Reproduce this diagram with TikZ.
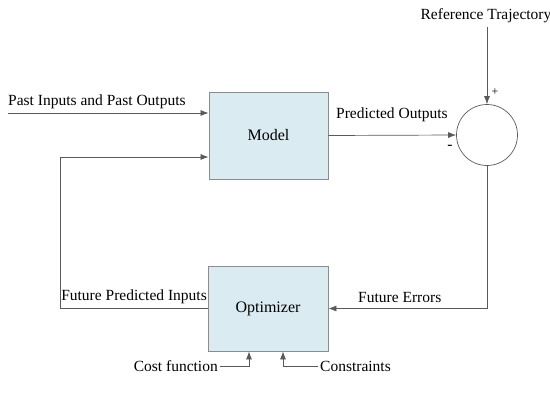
\documentclass[tikz,border=0pt]{standalone}
\usepackage{fontspec}
\setmainfont{Liberation Serif}
\usetikzlibrary{arrows.meta}
\definecolor{boxfill}{HTML}{DAEBF2}
\definecolor{boxline}{HTML}{8C8C8C}
\definecolor{wire}{HTML}{5A5A5A}

\begin{document}
\begin{tikzpicture}[x=1pt, y=-1pt,
	block/.style={draw=boxline, fill=boxfill, line width=.9pt, font=\fontsize{16}{18}\selectfont},
	wire/.style={draw=wire, line width=.7pt},
	tip/.style={-{Latex[length=8pt, width=6pt]}},
	lbl/.style={font=\fontsize{15.5}{18}\selectfont, inner sep=0pt}]
	\useasboundingbox (0,0) rectangle (550,405);

	% blocks
	\node[block, minimum width=119pt, minimum height=87pt] (model) at (268.5,135.5) {Model};
	\node[block, minimum width=120pt, minimum height=85pt] (opt) at (268,308.5) {Optimizer};
	\node[draw=wire, line width=.7pt, circle, minimum size=61pt, inner sep=0pt] (sum) at (487,135) {};

	% free ends
	\coordinate (pin) at (8,113);
	\coordinate (fb) at (60,157);
	\coordinate (ref) at (487,27);
	\coordinate (cost) at (220,366);
	\coordinate (cons) at (318,366);

	% model inputs
	\draw[wire, tip] (pin) -- (pin -| model.west);
	\node[lbl, anchor=south west] (pinlbl) at (8,109) {Past Inputs and Past Outputs};
	\draw[wire, tip] (opt.west) -| (fb) -- (fb -| model.west);
	\node[lbl, anchor=south east] (fblbl) at (207,304) {Future Predicted Inputs};

	% model to comparator
	\draw[wire, tip] (model.east) -- (sum.west);
	\node[lbl, anchor=south west] (outlbl) at (336,122) {Predicted Outputs};
	\node[lbl] (minus) at (450,147) {-};

	% reference
	\node[lbl, anchor=south] (reflbl) at (486,23) {Reference Trajectory};
	\draw[wire, tip] (ref) -- (sum.north);
	\node[lbl, font=\fontsize{12}{14}\selectfont] (plus) at (495,92) {+};

	% error back to optimizer
	\draw[wire, tip] (sum.south) |- (opt.east);
	\node[lbl, anchor=south west] (errlbl) at (358,303) {Future Errors};

	% optimizer settings
	\draw[wire, tip] (cost) -| ([xshift=-19pt]opt.south);
	\node[lbl, anchor=east] (costlbl) at (218,366) {Cost function};
	\draw[wire, tip] (cons) -| ([xshift=15pt]opt.south);
	\node[lbl, anchor=west] (conslbl) at (320,366) {Constraints};
\end{tikzpicture}
\end{document}
